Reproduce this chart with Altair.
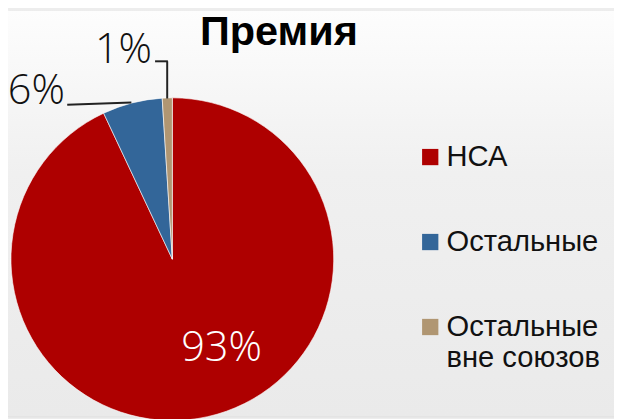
import altair as alt
import pandas as pd

categories = ["НСА", "Остальные", "Остальные вне союзов"]
values = [93, 6, 1]
pct_labels = ["93%", "6%", "1%"]
legend_labels = ["НСА", "Остальные", "Остальные\nвне союзов"]
colors = ["#ae0000", "#336699", "#b09672"]
title_text = "Премия"

df = pd.DataFrame({
    "cat": categories,
    "value": values,
    "label": pct_labels,
    "legend": legend_labels,
    "idx": list(range(len(categories))),
})

CX, CY, R = 166.5, 251.8, 163.5
W, H = 614, 411

color_scale = alt.Scale(domain=categories, range=colors)
theta = alt.Theta("value:Q", stack=True)
order = alt.Order("idx:Q")

bg = alt.Chart(alt.Data(values=[{}])).mark_rect(
    color=alt.LinearGradient(
        gradient="linear", x1=0, y1=0, x2=0, y2=1,
        stops=[alt.GradientStop(offset=0, color="#fdfdfd"),
               alt.GradientStop(offset=0.4, color="#f0f0f0"),
               alt.GradientStop(offset=1, color="#eaeaea")]
    )
).encode(x=alt.value(0), x2=alt.value(W), y=alt.value(0), y2=alt.value(H))

pie = alt.Chart(df).mark_arc(radius=R, stroke="#ffffff", strokeWidth=0.6).encode(
    theta=theta,
    order=order,
    color=alt.Color("cat:N", scale=color_scale, legend=None),
    x=alt.value(CX), y=alt.value(CY),
)

def pie_label(cat, radius, dx, dy, color):
    return alt.Chart(df).mark_text(
        radius=radius, dx=dx, dy=dy, font="Open Sans", fontWeight=300,
        fontSize=42, color=color, align="center", baseline="alphabetic",
    ).encode(
        theta=theta, order=order,
        text=alt.condition(f"datum.cat == '{cat}'", alt.Text("label:N"), alt.value("")),
        x=alt.value(CX), y=alt.value(CY),
    )

lab_main = pie_label(categories[0], 105, 27, 0.7, "#ffffff")
lab_blue = pie_label(categories[1], 170, -95.5, 7.6, "#111111")
lab_tan = pie_label(categories[2], 199, -43.3, 0, "#111111")

leader1 = alt.Chart(alt.Data(values=[{}])).mark_rule(color="#222222", strokeWidth=2).encode(
    x=alt.value(60), x2=alt.value(125), y=alt.value(95.3), y2=alt.value(93))
leader2a = alt.Chart(alt.Data(values=[{}])).mark_rule(color="#222222", strokeWidth=2).encode(
    x=alt.value(149), x2=alt.value(162), y=alt.value(51.3), y2=alt.value(51.3))
leader2b = alt.Chart(alt.Data(values=[{}])).mark_rule(color="#222222", strokeWidth=2).encode(
    x=alt.value(161.3), x2=alt.value(161.3), y=alt.value(51.3), y2=alt.value(89))

leg_y = alt.Y("idx:Q", scale=alt.Scale(domain=[0, 2], range=[148.3, 320.5], nice=False, zero=False), axis=None)
leg_sym = alt.Chart(df).mark_square(size=272, opacity=1).encode(
    x=alt.value(427.8), y=leg_y,
    color=alt.Color("cat:N", scale=color_scale, legend=None),
)
leg_txt = alt.Chart(df).mark_text(
    align="left", baseline="alphabetic", dy=9, fontSize=29.5,
    font="Liberation Sans", color="#111111", lineBreak="\n", lineHeight=31.5,
).encode(x=alt.value(444.3), y=leg_y, text="legend:N")

title = alt.Chart(alt.Data(values=[{}])).mark_text(
    fontSize=42, fontWeight="bold", font="Liberation Sans", color="#000000",
    align="center", baseline="alphabetic",
).encode(x=alt.value(274.5), y=alt.value(34.7), text=alt.value(title_text))

chart = alt.layer(
    bg, pie, lab_main, lab_blue, lab_tan, leader1, leader2a, leader2b,
    leg_sym, leg_txt, title
).properties(
    width=W, height=H, autosize=alt.AutoSizeParams(type="none"), padding=0
).configure_view(stroke=None).configure(background="#ededed")

chart.save("out.html", embed_options={"renderer": "svg", "actions": False})
